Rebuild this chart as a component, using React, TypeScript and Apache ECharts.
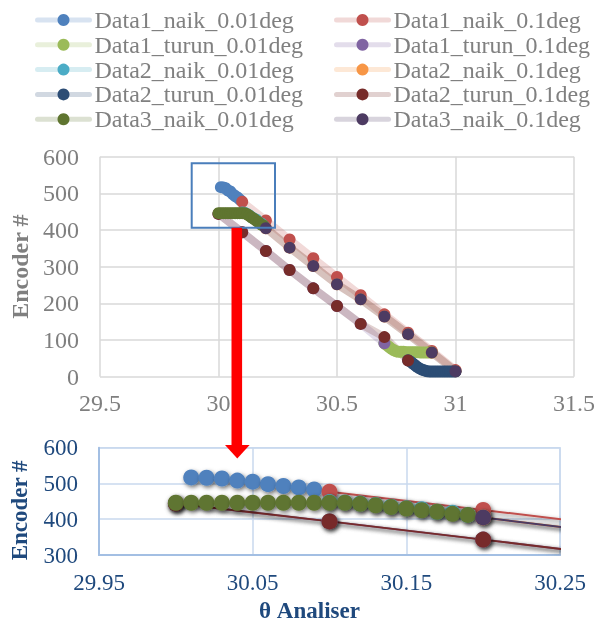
import React, { useEffect, useRef } from "react";
import * as echarts from "echarts";

const FONT = "'Liberation Serif', 'Times New Roman', serif";

// ---------- data (x = θ Analiser, y = Encoder #) ----------
const d1Naik001X = [30.01, 30.02, 30.03, 30.04, 30.05, 30.06, 30.07, 30.08, 30.09];
const d1Naik001Y = [517, 516, 514, 508, 505, 498, 493, 489, 483];

const d1Naik01X = [30.1, 30.2, 30.3, 30.4, 30.5, 30.6, 30.7, 30.8, 30.9, 31.0];
const d1Naik01Y = [477, 426, 374, 323, 272, 222, 170, 120, 70, 18];

const d1Turun001X = [30.7, 30.71, 30.72, 30.73, 30.74, 30.75, 30.76, 30.77, 30.78, 30.79, 30.8,
  30.81, 30.82, 30.83, 30.84, 30.85, 30.86, 30.87, 30.88, 30.89, 30.9];
const d1Turun001Y = [91, 86, 81, 76, 72, 69, 68, 68, 68, 67, 67, 67, 67, 67, 67, 66, 66, 66, 66, 66, 66];

const d1Turun01X = [30.0, 30.1, 30.2, 30.3, 30.4, 30.5, 30.6, 30.7];
const d1Turun01Y = [444, 394, 343, 291, 241, 193, 144, 91];

const d2Naik001X = [30.1, 30.11, 30.12, 30.13, 30.14, 30.15, 30.16, 30.17, 30.18, 30.19];
const d2Naik001Y = [448, 447, 444, 440, 435, 431, 428, 421, 418, 412];

const d2Naik01X = [30.2, 30.3, 30.4, 30.5, 30.6, 30.7, 30.8, 30.9, 31.0];
const d2Naik01Y = [405, 352, 302, 252, 211, 164, 116, 66, 15];

const d2Turun001X = [30.8, 30.81, 30.82, 30.83, 30.84, 30.85, 30.86, 30.87, 30.88, 30.89, 30.9,
  30.91, 30.92, 30.93, 30.94, 30.95, 30.96, 30.97, 30.98, 30.99, 31.0];
const d2Turun001Y = [45, 41, 36, 31, 26, 22, 19, 17, 15, 14, 14, 14, 14, 14, 14, 14, 14, 14, 14, 14, 14];

const d2Turun01X = [30.0, 30.1, 30.2, 30.3, 30.4, 30.5, 30.6, 30.7, 30.8];
const d2Turun01Y = [444, 394, 343, 291, 241, 193, 144, 108, 44];

const d3Naik001X = [30.0, 30.01, 30.02, 30.03, 30.04, 30.05, 30.06, 30.07, 30.08, 30.09, 30.1,
  30.11, 30.12, 30.13, 30.14, 30.15, 30.16, 30.17, 30.18, 30.19];
const d3Naik001Y = [446, 446, 446, 446, 446, 446, 446, 446, 446, 446, 446, 446, 443, 439, 434, 430, 425, 421, 415, 412];

const d3Naik01X = [30.2, 30.3, 30.4, 30.5, 30.6, 30.7, 30.8, 30.9, 31.0];
const d3Naik01Y = [405, 352, 302, 252, 211, 164, 116, 66, 15];

const seriesNames = [
  "Data1_naik_0.01deg", "Data1_naik_0.1deg",
  "Data1_turun_0.01deg", "Data1_turun_0.1deg",
  "Data2_naik_0.01deg", "Data2_naik_0.1deg",
  "Data2_turun_0.01deg", "Data2_turun_0.1deg",
  "Data3_naik_0.01deg", "Data3_naik_0.1deg",
];
const seriesColors = [
  "#4f81bd", "#c0504d", "#9bbb59", "#8064a2", "#4bacc6",
  "#f79646", "#2c4d75", "#772c2a", "#5f7530", "#4d3b62",
];
const seriesX = [d1Naik001X, d1Naik01X, d1Turun001X, d1Turun01X, d2Naik001X, d2Naik01X, d2Turun001X, d2Turun01X, d3Naik001X, d3Naik01X];
const seriesY = [d1Naik001Y, d1Naik01Y, d1Turun001Y, d1Turun01Y, d2Naik001Y, d2Naik01Y, d2Turun001Y, d2Turun01Y, d3Naik001Y, d3Naik01Y];

const topXTicks = { min: 29.5, max: 31.5, step: 0.5 };
const zoomXStart = 29.95; // first label of the zoomed axis
const zoomXLabelOffsets = { min: 0, max: 0.3, step: 0.1 };

export default function App() {
  const ref = useRef<HTMLDivElement>(null);
  useEffect(() => {
    document.body.style.margin = "0";
    const chart = echarts.init(ref.current!, null, { renderer: "svg" });

    const pairs = (i: number) => seriesX[i].map((x, k) => [x, seriesY[i][k]]);

    const topSeries = seriesNames.map((name, i) => ({
      name,
      type: "line",
      xAxisIndex: 0,
      yAxisIndex: 0,
      data: pairs(i),
      symbol: "circle",
      symbolSize: 12,
      showSymbol: true,
      lineStyle: { color: seriesColors[i], width: 8, opacity: 0.22, cap: "round", join: "round" },
      itemStyle: { color: seriesColors[i] },
      emphasis: { disabled: true },
    }));

    const shadow = { shadowBlur: 4, shadowColor: "rgba(0,0,0,0.55)", shadowOffsetX: 1.5, shadowOffsetY: 2 };
    const bottomSeries = seriesNames.map((name, i) => ({
      name,
      type: "line",
      xAxisIndex: 2,
      yAxisIndex: 1,
      data: pairs(i),
      symbol: "circle",
      symbolSize: 16,
      showSymbol: true,
      clip: true,
      lineStyle: { color: seriesColors[i], width: 2, ...shadow },
      itemStyle: { color: seriesColors[i], ...shadow },
      emphasis: { disabled: true },
    }));

    const legendCommon = {
      orient: "vertical",
      top: 2.6,
      itemWidth: 52,
      itemHeight: 15,
      itemGap: 0,
      selectedMode: false,
      lineStyle: { width: 5, opacity: 0.22 },
      textStyle: { fontFamily: FONT, fontSize: 24, color: "#808080", lineHeight: 24.8 },
    };

    const grey = "#7f7f7f";
    const gridGrey = "#d9d9d9";
    const navy = "#1f497d";

    chart.setOption({
      animation: false,
      legend: [
        { ...legendCommon, left: 30, data: seriesNames.filter((_, i) => i % 2 === 0) },
        { ...legendCommon, left: 329, data: seriesNames.filter((_, i) => i % 2 === 1) },
      ],
      grid: [
        { left: 100, top: 156.7, width: 475, height: 220 },
        { left: 95, top: 447.7, width: 465, height: 107.3, show: true, borderColor: "#c9d9ee", borderWidth: 1.5 },
      ],
      xAxis: [
        {
          type: "value", gridIndex: 0,
          min: topXTicks.min, max: topXTicks.max, interval: topXTicks.step,
          axisLine: { show: false },
          axisTick: { show: false },
          axisLabel: { color: grey, fontSize: 24, fontFamily: FONT, margin: 14 },
          splitLine: { show: true, lineStyle: { color: gridGrey, width: 1.5 } },
        },
        {
          type: "value", gridIndex: 1, position: "bottom",
          min: zoomXLabelOffsets.min, max: zoomXLabelOffsets.max, interval: zoomXLabelOffsets.step,
          axisLine: { show: true, lineStyle: { color: "#a3bfe3", width: 2 } },
          axisTick: { show: false },
          axisLabel: {
            color: navy, fontSize: 23, fontFamily: FONT, margin: 16,
            formatter: (v: number) => (zoomXStart + v).toFixed(2),
          },
          splitLine: { show: true, lineStyle: { color: "#c9d9ee", width: 1.5 } },
          name: "θ Analiser",
          nameLocation: "middle",
          nameGap: 44,
          nameTextStyle: { color: navy, fontSize: 23, fontWeight: "bold", fontFamily: FONT, padding: [0, 40, 0, 0] },
        },
        {
          type: "value", gridIndex: 1, position: "top",
          min: zoomXStart, max: zoomXStart + zoomXLabelOffsets.max,
          show: false,
          splitLine: { show: false },
        },
      ],
      yAxis: [
        {
          type: "value", gridIndex: 0, min: 0, max: 600, interval: 100,
          axisLine: { show: false },
          axisTick: { show: false },
          axisLabel: { color: grey, fontSize: 24, fontFamily: FONT, margin: 21 },
          splitLine: { show: true, lineStyle: { color: gridGrey, width: 1.5 } },
          name: "Encoder #",
          nameLocation: "middle",
          nameGap: 68,
          nameTextStyle: { color: grey, fontSize: 24, fontWeight: "bold", fontFamily: FONT },
        },
        {
          type: "value", gridIndex: 1, min: 300, max: 600, interval: 100,
          axisLine: { show: true, lineStyle: { color: "#a3bfe3", width: 2 } },
          axisTick: { show: false },
          axisLabel: { color: navy, fontSize: 23, fontFamily: FONT, margin: 21 },
          splitLine: { show: true, lineStyle: { color: "#c9d9ee", width: 1.5 } },
          name: "Encoder #",
          nameLocation: "middle",
          nameGap: 68,
          nameTextStyle: { color: navy, fontSize: 23, fontWeight: "bold", fontFamily: FONT, padding: [0, 18, 0, 0] },
        },
      ],
      graphic: [
        {
          type: "rect", z: 100,
          shape: { x: 191.7, y: 163.3, width: 83.3, height: 64.4 },
          style: { fill: "none", stroke: "#4a7ebb", lineWidth: 2 },
        },
        {
          type: "rect", z: 100,
          shape: { x: 231.5, y: 227.7, width: 10.6, height: 218 },
          style: { fill: "#ff0000" },
        },
        {
          type: "polygon", z: 100,
          shape: { points: [[225, 445], [249.6, 445], [237.3, 458.5]] },
          style: { fill: "#ff0000" },
        },
      ],
      series: [...topSeries, ...bottomSeries],
    });
    return () => chart.dispose();
  }, []);
  return <div ref={ref} style={{ position: "fixed", left: 0, top: 0, width: 598, height: 625 }} />;
}
